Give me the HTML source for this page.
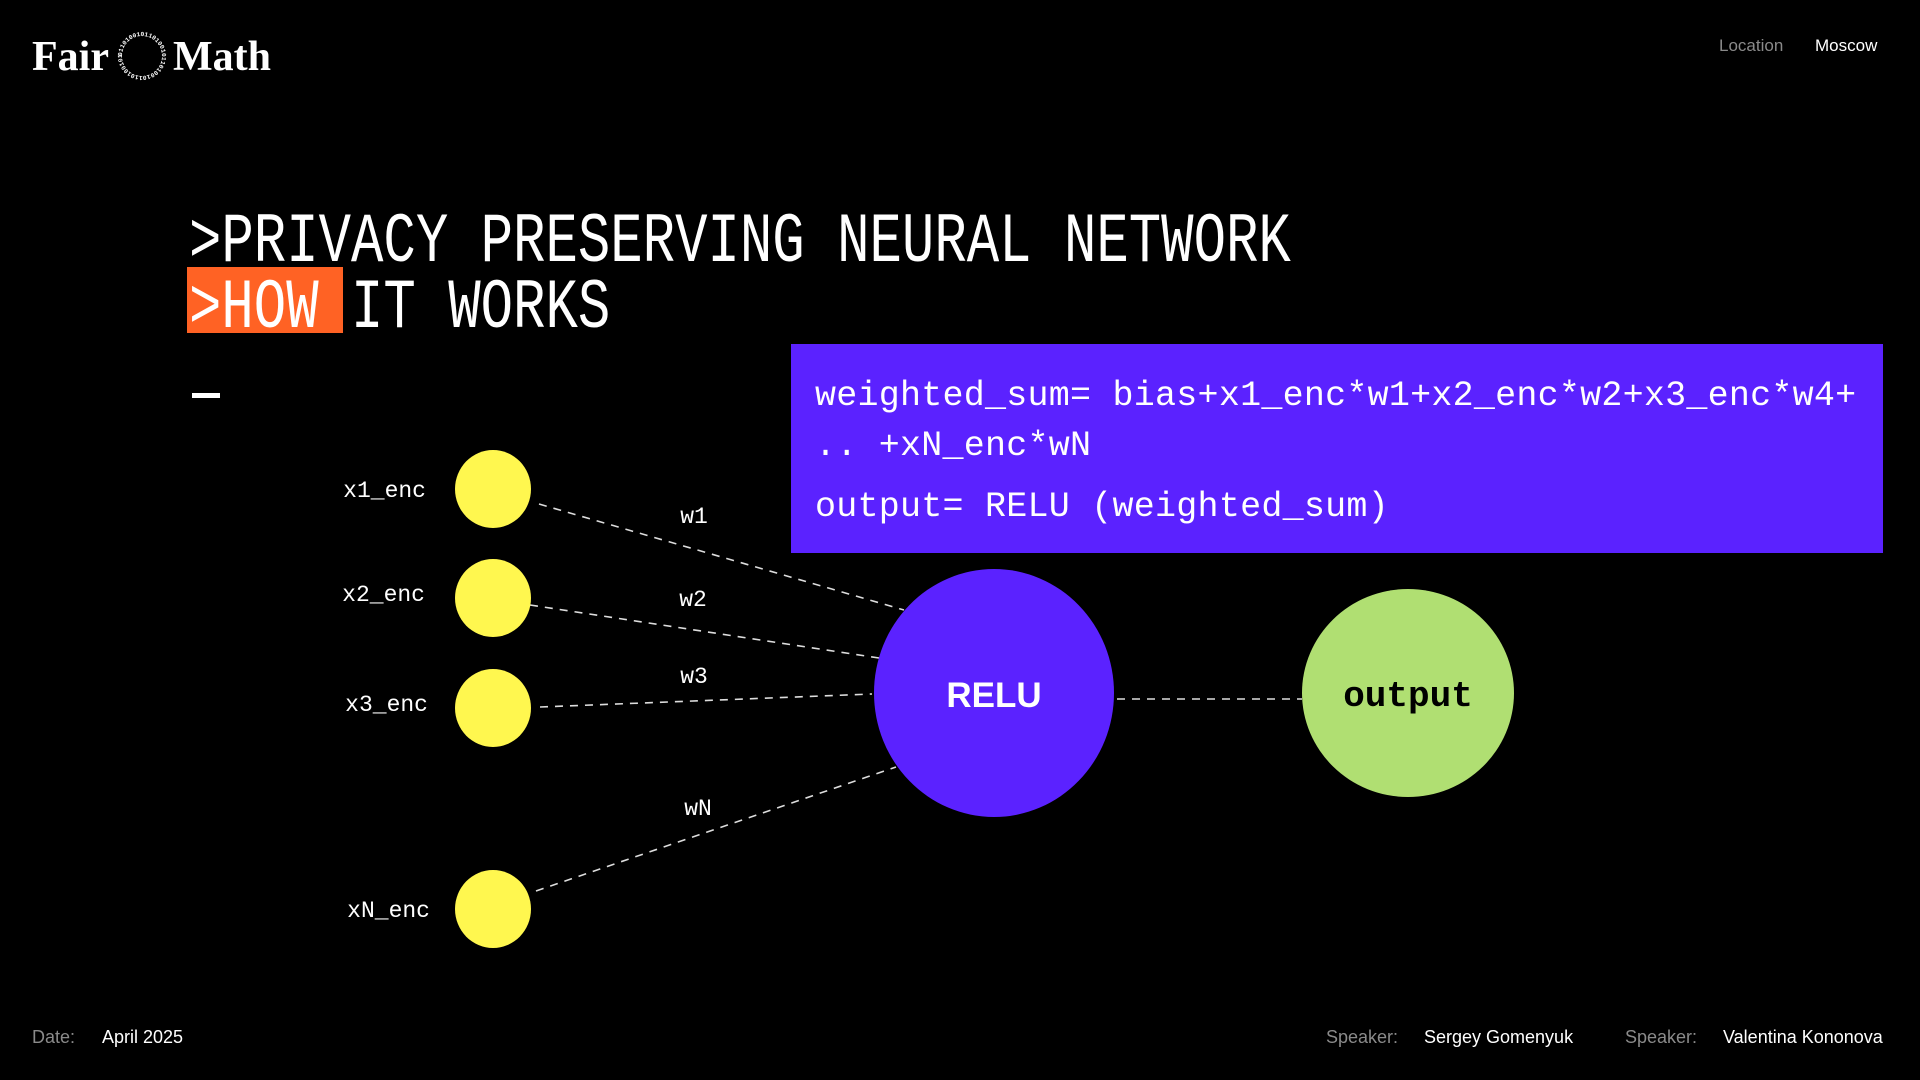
<!DOCTYPE html>
<html><head><meta charset="utf-8"><style>
html,body{margin:0;padding:0;background:#000;}
body{width:1920px;height:1080px;position:relative;overflow:hidden;font-family:"Liberation Sans",sans-serif;color:#fff;}
.a{position:absolute;white-space:nowrap;}
.mono{font-family:"Liberation Mono",monospace;}
.t{font-size:54px;transform:scaleY(1.3);transform-origin:0 100%;line-height:1;}
.f{font-size:35px;line-height:1;letter-spacing:0.25px;}
.foot{font-size:18px;top:1027px;}
.g{color:#8a8a8a;}
</style></head><body>
<div class="a" style="left:32px;top:33px;font-family:'Liberation Serif',serif;font-weight:bold;font-size:42px;">Fair</div>
<div class="a" style="left:173px;top:33px;font-family:'Liberation Serif',serif;font-weight:bold;font-size:42px;">Math</div>
<svg class="a" style="left:116px;top:30px" width="52" height="52" viewBox="0 0 52 52">
<defs><path id="c" d="M26,26 m-20,0 a20,20 0 1,1 40,0 a20,20 0 1,1 -40,0"/></defs>
<text font-family="Liberation Mono" font-size="6.2" font-weight="bold" fill="#fff"><textPath href="#c">0110100101101001011010010110100101101</textPath></text>
</svg>
<div class="a g" style="left:1719px;top:36px;font-size:17px;">Location</div>
<div class="a" style="left:1815px;top:36px;font-size:17px;">Moscow</div>

<div class="a" style="left:187px;top:267px;width:156px;height:66px;background:#ff6224;"></div>
<div class="a mono t" style="left:189px;top:225px;">&gt;PRIVACY PRESERVING NEURAL NETWORK</div>
<div class="a mono t" style="left:189px;top:291px;">&gt;HOW IT WORKS</div>
<div class="a" style="left:192px;top:393px;width:28px;height:5px;background:#fff;"></div>

<div class="a" style="left:791px;top:344px;width:1092px;height:209px;background:#5b22ff;"></div>
<div class="a mono f" style="left:815px;top:379px;">weighted_sum= bias+x1_enc*w1+x2_enc*w2+x3_enc*w4+</div>
<div class="a mono f" style="left:815px;top:429px;">.. +xN_enc*wN</div>
<div class="a mono f" style="left:815px;top:490px;">output= RELU (weighted_sum)</div>

<svg class="a" style="left:0;top:0" width="1920" height="1080">
<g stroke="#ddd" stroke-width="1.6" stroke-dasharray="8 7" fill="none">
<line x1="539" y1="504" x2="904" y2="610"/>
<line x1="530" y1="605" x2="879" y2="658"/>
<line x1="540" y1="707" x2="872" y2="694"/>
<line x1="536" y1="891" x2="896" y2="767"/>
<line x1="1117" y1="699" x2="1302" y2="699"/>
</g>
<g fill="#fff74f">
<ellipse cx="493" cy="489" rx="38" ry="39"/>
<ellipse cx="493" cy="598" rx="38" ry="39"/>
<ellipse cx="493" cy="708" rx="38" ry="39"/>
<ellipse cx="493" cy="909" rx="38" ry="39"/>
</g>
<ellipse cx="994" cy="693" rx="120" ry="124" fill="#5b22ff"/>
<ellipse cx="1408" cy="693" rx="106" ry="104" fill="#b0df72"/>
<g font-family="Liberation Mono" font-size="23" fill="#fff" text-anchor="end">
<text x="426" y="497">x1_enc</text>
<text x="425" y="601">x2_enc</text>
<text x="428" y="711">x3_enc</text>
<text x="430" y="917">xN_enc</text>
</g>
<g font-family="Liberation Mono" font-size="23" fill="#fff" text-anchor="middle">
<text x="694" y="523">w1</text>
<text x="693" y="606">w2</text>
<text x="694" y="683">w3</text>
<text x="698" y="815">wN</text>
</g>
<text x="994" y="707" font-family="Liberation Sans" font-weight="bold" font-size="35" fill="#fff" text-anchor="middle">RELU</text>
<text x="1408" y="706" font-family="Liberation Mono" font-weight="bold" font-size="36" fill="#000" text-anchor="middle">output</text>
</svg>

<div class="a foot g" style="left:32px;">Date:</div>
<div class="a foot" style="left:102px;">April 2025</div>
<div class="a foot g" style="left:1326px;">Speaker:</div>
<div class="a foot" style="left:1424px;">Sergey Gomenyuk</div>
<div class="a foot g" style="left:1625px;">Speaker:</div>
<div class="a foot" style="left:1723px;">Valentina Kononova</div>
</body></html>
